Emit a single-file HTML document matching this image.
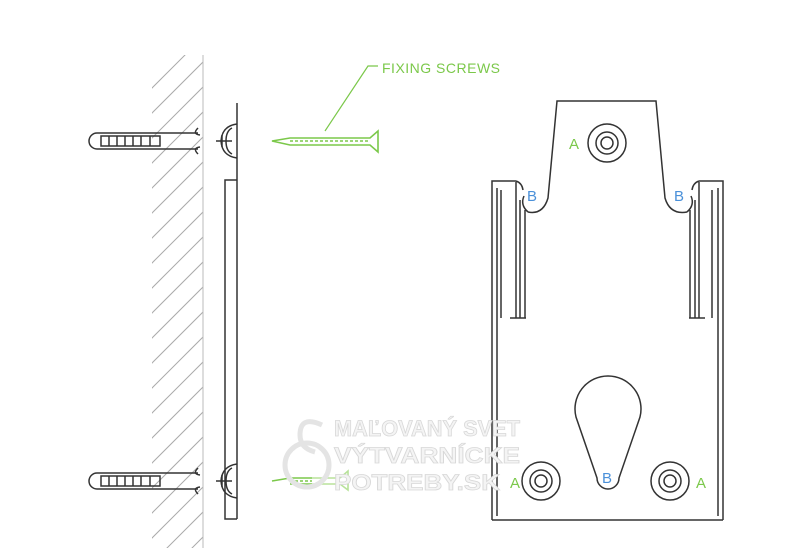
<!DOCTYPE html>
<html><head><style>html,body{margin:0;background:#fff;overflow:hidden;width:800px;height:548px}svg{display:block}</style></head><body>
<svg width="800" height="548" viewBox="0 0 800 548" xmlns="http://www.w3.org/2000/svg" font-family="Liberation Sans, sans-serif">
<rect width="800" height="548" fill="#fff"/>
<defs><clipPath id="wc"><rect x="152" y="55" width="51" height="493"/></clipPath></defs>
<g clip-path="url(#wc)" stroke="#aaa" stroke-width="1">
<line x1="150" y1="90" x2="205" y2="35"/><line x1="150" y1="115" x2="205" y2="60"/><line x1="150" y1="140" x2="205" y2="85"/><line x1="150" y1="165" x2="205" y2="110"/><line x1="150" y1="190" x2="205" y2="135"/><line x1="150" y1="215" x2="205" y2="160"/><line x1="150" y1="240" x2="205" y2="185"/><line x1="150" y1="265" x2="205" y2="210"/><line x1="150" y1="290" x2="205" y2="235"/><line x1="150" y1="315" x2="205" y2="260"/><line x1="150" y1="340" x2="205" y2="285"/><line x1="150" y1="365" x2="205" y2="310"/><line x1="150" y1="390" x2="205" y2="335"/><line x1="150" y1="415" x2="205" y2="360"/><line x1="150" y1="440" x2="205" y2="385"/><line x1="150" y1="465" x2="205" y2="410"/><line x1="150" y1="490" x2="205" y2="435"/><line x1="150" y1="515" x2="205" y2="460"/><line x1="150" y1="540" x2="205" y2="485"/><line x1="150" y1="565" x2="205" y2="510"/><line x1="150" y1="590" x2="205" y2="535"/>
</g>
<line x1="203" y1="55" x2="203" y2="548" stroke="#bbb" stroke-width="1"/>
<g fill="none" stroke="#333" stroke-width="1.5">
<line x1="237" y1="103" x2="237" y2="519"/>
<polyline points="237,180 225,180 225,519 237,519"/>
<g id="anc">
<path d="M198,133 H97 A8,8 0 0 0 97,149 H198"/>
<path d="M101,136 H160 V146 H101 Z"/>
<line x1="109" y1="136" x2="109" y2="146"/><line x1="117" y1="136" x2="117" y2="146"/><line x1="125" y1="136" x2="125" y2="146"/><line x1="133" y1="136" x2="133" y2="146"/><line x1="141" y1="136" x2="141" y2="146"/><line x1="150" y1="136" x2="150" y2="146"/>
<path d="M198,128 Q192,134 200,135 M198,154 Q192,148 200,147"/>
<path d="M237,124 Q222,126 221,141 Q222,156 237,158" />
<path d="M232,128 Q226,131 226,141 Q226,151 232,154"/>
<line x1="216" y1="141" x2="232" y2="141"/><line x1="222" y1="135" x2="222" y2="147"/>
</g>
<use href="#anc" y="340"/>
</g>
<g stroke="#7bc84a" fill="none" stroke-width="1.6">
<path d="M272,141 L290,138 H370 L378,131 V152 L370,145 H290 Z"/>
<line x1="290" y1="141" x2="370" y2="141" stroke-dasharray="3,2"/>
<path d="M272,481 L290,478 H312 M290,484 H312"/>
<line x1="290" y1="481" x2="312" y2="481" stroke-dasharray="3,2"/>
<path d="M312,478 H340 M312,484 H340 L348,490 V471 L340,478" stroke="#b8e29a"/>
<polyline points="325,131 368,66 378,66" stroke-width="1.2"/>
</g>
<text x="382" y="73" fill="#7bc84a" font-size="14" letter-spacing="0.5">FIXING SCREWS</text>
<g fill="none" stroke="#333" stroke-width="1.5">
<path d="M492,520 V181 H516 M516,181 Q522,183 523,190"/>
<path d="M723,520 V181 H699 M699,181 Q693,183 692,190"/>
<line x1="492" y1="520" x2="723" y2="520"/>
<path d="M528,212 Q543,215 548,198 L557,101 H656 L665,198 Q670,215 687,212"/>
<path d="M524,196 Q520,205 528,212"/>
<path d="M691,196 Q695,205 687,212"/>
<path d="M497,188 V516 M718,188 V516"/>
<line x1="501" y1="190" x2="501" y2="318"/><line x1="516" y1="182" x2="516" y2="318"/><line x1="520" y1="200" x2="520" y2="318"/><line x1="525" y1="210" x2="525" y2="318"/>
<line x1="712" y1="190" x2="712" y2="318"/><line x1="699" y1="182" x2="699" y2="318"/><line x1="695" y1="200" x2="695" y2="318"/><line x1="690" y1="210" x2="690" y2="318"/>
<line x1="510" y1="318" x2="526" y2="318"/><line x1="689" y1="318" x2="705" y2="318"/>
<path d="M597,478 L576,417 A33,33 0 1 1 640,417 L619,478 A11,11 0 0 1 597,478 Z"/>
<g id="ci"><circle cx="607" cy="143" r="19"/><circle cx="607" cy="143" r="11"/><circle cx="607" cy="143" r="6"/></g>
<use href="#ci" x="-66" y="338"/><use href="#ci" x="63" y="338"/>
</g>
<g font-size="15">
<text x="569" y="149" fill="#7bc84a">A</text>
<text x="510" y="488" fill="#7bc84a">A</text>
<text x="696" y="488" fill="#7bc84a">A</text>
<text x="527" y="201" fill="#4a90d9">B</text>
<text x="674" y="201" fill="#4a90d9">B</text>
<text x="602" y="483" fill="#4a90d9">B</text>
</g>
<g fill="#f4f4f4" stroke="#d8d8d8" stroke-width="0.8" font-weight="bold" font-size="22">
<text x="334" y="436" textLength="186" lengthAdjust="spacingAndGlyphs">MAĽOVANÝ SVET</text>
<text x="334" y="463" textLength="186" lengthAdjust="spacingAndGlyphs">VÝTVARNÍCKE</text>
<text x="334" y="490" textLength="166" lengthAdjust="spacingAndGlyphs">POTREBY.SK</text>
</g>
<g fill="none" stroke="#e4e4e4" stroke-width="5">
<path d="M322,425 Q300,415 300,435 Q300,448 315,452"/>
<ellipse cx="307" cy="465" rx="22" ry="22"/>
</g>
</svg>
</body></html>
